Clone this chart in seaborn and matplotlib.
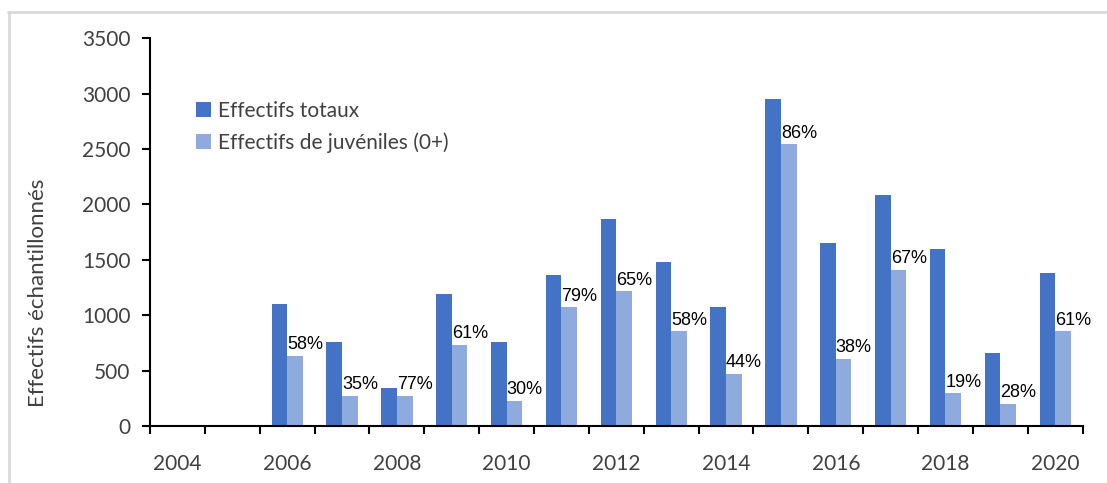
import numpy as np
import pandas as pd
import matplotlib
matplotlib.use("Agg")
import matplotlib.pyplot as plt
from matplotlib.lines import Line2D
from matplotlib.ticker import FixedLocator
import seaborn as sns

sns.set_theme(style="white")
plt.rcParams["font.family"] = ["Lato", "DejaVu Sans"]

# ---- Data ----
years = [str(y) for y in range(2004, 2021)]
totaux = [np.nan, np.nan, 1100, 757, 347, 1190, 757, 1359, 1869, 1480, 1073,
          2954, 1648, 2086, 1600, 660, 1381]
juveniles = [np.nan, np.nan, 636, 271, 271, 732, 226, 1070, 1215, 853, 467,
             2541, 609, 1408, 295, 200, 853]
pct_labels = [None, None, "58%", "35%", "77%", "61%", "30%", "79%", "65%", "58%",
              "44%", "86%", "38%", "67%", "19%", "28%", "61%"]
series_names = ["Effectifs totaux", "Effectifs de juvéniles (0+)"]
colors = ["#4472C4", "#8FAADC"]

df = pd.DataFrame({
    "annee": years * 2,
    "effectif": totaux + juveniles,
    "serie": [series_names[0]] * len(years) + [series_names[1]] * len(years),
})

# ---- Plot ----
fig = plt.figure(figsize=(11.07, 4.83), dpi=100)
ax = fig.add_axes([0.1355, 0.118, 0.978 - 0.1355, 0.921 - 0.118])

sns.barplot(data=df, x="annee", y="effectif", hue="serie", order=years,
            hue_order=series_names, palette=colors, width=0.57,
            saturation=1, linewidth=0, ax=ax, errorbar=None)

# percentage labels above the juvenile bars
for i, lab in enumerate(pct_labels):
    if lab is None:
        continue
    ax.annotate(lab, (i, juveniles[i]), xytext=(0, 2), textcoords="offset points",
                ha="left", va="bottom", fontsize=13, color="black",
                family=["Liberation Sans", "DejaVu Sans"])

ax.set_ylim(0, 3500)
ax.set_yticks(np.arange(0, 3501, 500))
ax.set_xlim(-0.5, len(years) - 0.5)
ax.set_xticks(range(0, len(years), 2))
ax.set_xticklabels(years[::2])
ax.xaxis.set_minor_locator(FixedLocator(np.arange(-0.5, len(years), 1)))
ax.tick_params(axis="x", which="major", length=0, pad=20, labelsize=15, labelcolor="#404040")
ax.tick_params(axis="x", which="minor", length=6, width=1.5, color="black", direction="out",
               bottom=True)
ax.tick_params(axis="y", which="major", length=6, width=1.5, color="black", direction="out",
               left=True, pad=8, labelsize=15, labelcolor="#404040")

ax.set_xlabel("")
ax.set_ylabel("Effectifs échantillonnés", fontsize=16, color="#404040")
ax.yaxis.set_label_coords(-0.109, 0.343)

for s in ["top", "right"]:
    ax.spines[s].set_visible(False)
for s in ["left", "bottom"]:
    ax.spines[s].set_color("black")
    ax.spines[s].set_linewidth(1.5)

leg = ax.legend(loc="upper left", bbox_to_anchor=(0.04, 0.86), frameon=False,
                fontsize=15, handlelength=0.75, handleheight=0.75, handletextpad=0.3,
                labelspacing=0.55, borderaxespad=0)
for t in leg.get_texts():
    t.set_color("#404040")

# light frame around the picture (top and left)
fig.add_artist(Line2D([8 / 1107, 1], [1 - 12 / 483, 1 - 12 / 483],
                      transform=fig.transFigure, color="#d9d9d9", lw=2))
fig.add_artist(Line2D([9 / 1107, 9 / 1107], [0, 1 - 12 / 483],
                      transform=fig.transFigure, color="#d9d9d9", lw=2))

fig.savefig("out.png", dpi=100)
